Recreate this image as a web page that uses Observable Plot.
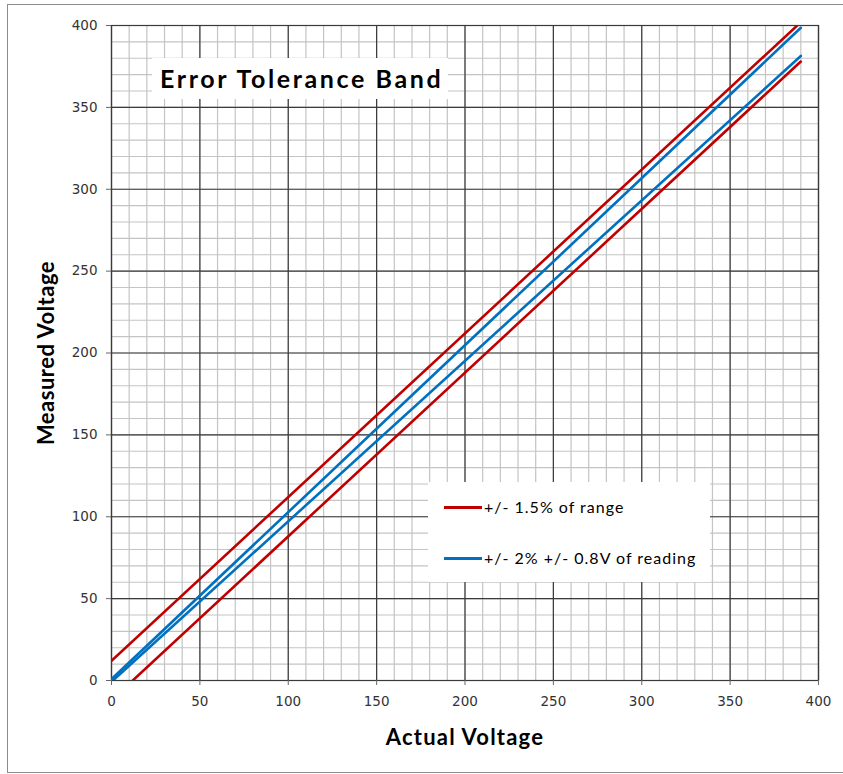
<!DOCTYPE html>
<html><head><meta charset="utf-8">
<script src="https://cdn.jsdelivr.net/npm/d3@7"></script>
<script src="https://cdn.jsdelivr.net/npm/@observablehq/plot@0.6"></script>
<style>
body{margin:0;background:#fff;}
#wrap{position:relative;width:843px;height:774px;overflow:hidden;background:#fff;}
#frame{position:absolute;left:7px;top:4px;width:860px;height:769px;border:1px solid #8c8c8c;box-sizing:border-box;pointer-events:none;}
.box{position:absolute;background:#fff;}
#title{left:152px;top:58px;width:296px;height:41px;font-family:Lato,sans-serif;font-weight:bold;font-size:25px;letter-spacing:2.6px;line-height:41px;color:#000;box-sizing:border-box;padding-left:8px;white-space:nowrap;}
#legend{left:428px;top:482px;width:282px;height:100px;font-family:Lato,sans-serif;font-size:16px;letter-spacing:1px;color:#000;}
.item{position:absolute;left:16px;white-space:nowrap;height:20px;line-height:20px;}
.sw{display:inline-block;width:38px;height:3px;vertical-align:middle;margin-right:2px;position:relative;top:-1px;}
</style></head><body><div id="wrap"></div>
<script>
// Data (straight lines; endpoints)
const actualVoltage = [0, 390];
const redUpper = [12, 402];
const redLower = [-12, 378];
const blueUpper = [0.8, 398.6];
const blueLower = [-0.8, 381.4];

const majorTicks = [0, 50, 100, 150, 200, 250, 300, 350, 400];
const minorTicks = [0,10,20,30,40,50,60,70,80,90,100,110,120,130,140,150,160,170,180,190,200,210,220,230,240,250,260,270,280,290,300,310,320,330,340,350,360,370,380,390,400];

const legendLabels = ["+/- 1.5% of range", "+/- 2% +/- 0.8V of reading"];
const colors = ["#c00000", "#0070c0"];

const seriesDefs = [
  {name: "redUpper", values: redUpper, color: colors[0]},
  {name: "redLower", values: redLower, color: colors[0]},
  {name: "blueUpper", values: blueUpper, color: colors[1]},
  {name: "blueLower", values: blueLower, color: colors[1]}
];
const rows = seriesDefs.flatMap(s => actualVoltage.map((a, i) => ({series: s.name, x: a, y: s.values[i], color: s.color})));

const plot = Plot.plot({
  width: 843,
  height: 774,
  marginLeft: 111,
  marginRight: 25,
  marginTop: 25,
  marginBottom: 94,
  style: {background: "transparent", fontFamily: "'DejaVu Sans', sans-serif", fontSize: "13px", color: "#333"},
  x: {domain: [0, 400]},
  y: {domain: [0, 400]},
  marks: [
    Plot.gridX(minorTicks, {stroke: "#c4c4c4", strokeOpacity: 1, strokeWidth: 1.2}),
    Plot.gridY(minorTicks, {stroke: "#c4c4c4", strokeOpacity: 1, strokeWidth: 1.2}),
    Plot.gridX(majorTicks, {stroke: "#3a3a3a", strokeOpacity: 1, strokeWidth: 1.2}),
    Plot.gridY(majorTicks, {stroke: "#3a3a3a", strokeOpacity: 1, strokeWidth: 1.2}),
    Plot.frame({stroke: "#3a3a3a", strokeWidth: 1.2}),
    Plot.axisX(majorTicks, {tickSize: 5, tickPadding: 11, label: null, stroke: "#666", fontSize: 13.5, fill: "#333"}),
    Plot.axisY(majorTicks, {tickSize: 5, tickPadding: 9, label: null, stroke: "#666", fontSize: 13.5, fill: "#333"}),
    Plot.line(rows, {x: "x", y: "y", z: "series", stroke: "color", strokeWidth: 2.6, clip: true}),
    Plot.text(["Actual Voltage"], {frameAnchor: "bottom", dy: 57, textAnchor: "middle", lineAnchor: "middle", fontSize: 22, fontWeight: "bold", fontFamily: "Lato, sans-serif", fill: "#000"}),
    Plot.text(["Measured Voltage"], {frameAnchor: "left", dx: -65, rotate: -90, textAnchor: "middle", lineAnchor: "middle", fontSize: 22, fontWeight: "bold", fontFamily: "Lato, sans-serif", fill: "#000"})
  ]
});

d3.select(plot).selectAll("text")
  .filter(function() { return this.textContent === "Actual Voltage"; })
  .attr("letter-spacing", "1.2px");
d3.select(plot).selectAll("text")
  .filter(function() { return this.textContent === "Measured Voltage"; })
  .attr("letter-spacing", "0.5px");

const wrap = document.getElementById("wrap");
plot.style.position = "absolute";
plot.style.left = "0px";
plot.style.top = "0px";
wrap.appendChild(plot);

const title = document.createElement("div");
title.className = "box";
title.id = "title";
title.textContent = "Error Tolerance Band";
wrap.appendChild(title);

const legend = document.createElement("div");
legend.className = "box";
legend.id = "legend";
const tops = [15, 66];
legendLabels.forEach((lab, i) => {
  const it = document.createElement("div");
  it.className = "item";
  it.style.top = tops[i] + "px";
  const sw = document.createElement("span");
  sw.className = "sw";
  sw.style.background = colors[i];
  it.appendChild(sw);
  it.appendChild(document.createTextNode(lab));
  legend.appendChild(it);
});
wrap.appendChild(legend);

const frame = document.createElement("div");
frame.id = "frame";
wrap.appendChild(frame);
</script>
</body></html>
